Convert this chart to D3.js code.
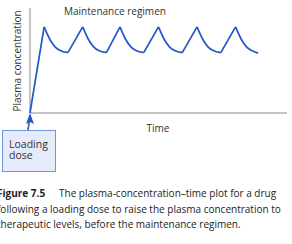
<!DOCTYPE html>
<html lang="en">
<head>
<meta charset="UTF-8">
<title>Loading dose plot</title>
<script src="https://d3js.org/d3.v7.min.js"></script>
<style>
  body { margin: 0; padding: 0; background: #fff; }
  svg { display: block; }
  text { font-family: "Open Sans", "Noto Sans", sans-serif; }
</style>
</head>
<body>
<svg id="chart" width="292" height="244"></svg>
<script>
// plasma concentration readings (time, concentration)
const loadingRise = [[0, 0], [1.1, 8.2]];
const decays = [
  [[1.1, 8.2], [1.55, 7.0], [1.95, 6.3], [2.35, 5.95], [2.95, 5.75]],
  [[4.1, 8.2], [4.55, 7.0], [4.95, 6.3], [5.35, 5.95], [5.95, 5.75]],
  [[7.0, 8.2], [7.45, 7.0], [7.85, 6.3], [8.25, 5.95], [8.85, 5.75]],
  [[10.0, 8.2], [10.45, 7.0], [10.85, 6.3], [11.25, 5.95], [11.85, 5.75]],
  [[13.0, 8.2], [13.45, 7.0], [13.85, 6.3], [14.25, 5.95], [14.85, 5.75]],
  [[16.0, 8.2], [16.45, 7.0], [16.85, 6.3], [17.25, 5.95], [17.75, 5.7]]
];
const captionLines = [
  ["Figure 7.5", "The plasma-concentration\u2013time plot for a drug"],
  ["", "following a loading dose to raise the plasma concentration to"],
  ["", "therapeutic levels, before the maintenance regimen."]
];

const svg = d3.select("#chart");
const blue = "#2356c8";

const x = d3.scaleLinear().domain([0, 20]).range([30, 287]);
const y = d3.scaleLinear().domain([0, 10]).range([113, 8]);

// axes (plain lines, no ticks)
svg.append("line").attr("x1", x(0)).attr("x2", x(0)).attr("y1", y(10)).attr("y2", y(0))
  .attr("stroke", "#b0b0b0").attr("stroke-width", 1.5);
svg.append("line").attr("x1", x(0)).attr("x2", x(20)).attr("y1", y(0)).attr("y2", y(0))
  .attr("stroke", "#b0b0b0").attr("stroke-width", 1.5);

const straight = d3.line().x(d => x(d[0])).y(d => y(d[1]));
const smooth = d3.line().x(d => x(d[0])).y(d => y(d[1])).curve(d3.curveMonotoneX);

// rises: loading dose, then each maintenance dose from trough to next peak
const rises = [loadingRise];
for (let i = 1; i < decays.length; i++) {
  rises.push([decays[i - 1][decays[i - 1].length - 1], decays[i][0]]);
}
svg.selectAll(".rise").data(rises).enter().append("path")
  .attr("class", "rise")
  .attr("d", straight)
  .attr("fill", "none").attr("stroke", blue).attr("stroke-width", 1.7);
svg.selectAll(".decay").data(decays).enter().append("path")
  .attr("class", "decay")
  .attr("d", smooth)
  .attr("fill", "none").attr("stroke", blue).attr("stroke-width", 1.7);

// labels
svg.append("text").attr("x", 64).attr("y", 15)
  .attr("font-size", 10).attr("fill", "#333").text("Maintenance regimen");
svg.append("text").attr("transform", "translate(21,61) rotate(-90)")
  .attr("text-anchor", "middle").attr("font-size", 10).attr("fill", "#333")
  .text("Plasma concentration");
svg.append("text").attr("x", 158).attr("y", 132).attr("text-anchor", "middle")
  .attr("font-size", 10).attr("fill", "#333").text("Time");

// loading dose box + arrow
svg.append("rect").attr("x", 2.5).attr("y", 130.5).attr("width", 53).attr("height", 41)
  .attr("fill", "#e5ebf8").attr("stroke", "#6e96dc").attr("stroke-width", 1);
svg.append("text").attr("x", 9).attr("y", 148).attr("font-size", 10.5).attr("fill", "#333").text("Loading");
svg.append("text").attr("x", 9).attr("y", 159).attr("font-size", 10.5).attr("fill", "#333").text("dose");
svg.append("line").attr("x1", 28).attr("y1", 130).attr("x2", 29.5).attr("y2", 120)
  .attr("stroke", blue).attr("stroke-width", 1.6);
svg.append("path").attr("d", "M30,113 L34,124 L30,122 L26,124 Z").attr("fill", blue);

// caption
const cap = svg.append("g").attr("fill", "#222");
captionLines.forEach((ln, i) => {
  const yy = 197 + i * 15.5;
  if (ln[0]) {
    cap.append("text").attr("x", -3).attr("y", yy).attr("font-size", 10)
      .attr("font-weight", "bold").text(ln[0]);
  }
  cap.append("text").attr("x", i === 0 ? 59 : -3).attr("y", yy).attr("font-size", 10).text(ln[1]);
});
</script>
</body>
</html>
